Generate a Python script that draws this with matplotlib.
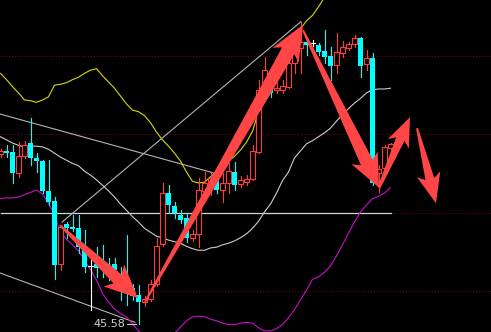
import matplotlib.pyplot as plt
import matplotlib.transforms as mtransforms
from matplotlib.patches import Rectangle, Polygon
import numpy as np

# K线数据：开盘、收盘、最高、最低
opens = [47.75, 47.79, 47.78, 47.51, 47.72, 47.89, 47.70, 47.66, 47.28, 47.15,
         46.34, 46.86, 46.82, 46.80, 46.52, 46.32, 46.34, 46.37, 46.33, 46.34,
         46.19, 46.09, 46.04, 45.95, 45.86, 45.90, 46.09, 46.60, 47.25, 47.09,
         46.97, 46.93, 46.68, 46.73, 47.28, 47.34, 47.46, 47.29, 47.38, 47.52,
         47.37, 47.39, 47.43, 47.78, 48.54, 48.57, 48.57, 48.57, 48.61, 48.91,
         49.10, 49.18, 49.17, 49.14, 49.07, 49.00, 48.89, 49.04, 49.10, 49.15,
         49.23, 48.90, 48.98, 47.51, 47.57, 47.83]
closes = [47.79, 47.76, 47.51, 47.72, 47.86, 47.70, 47.66, 47.28, 47.14, 46.33,
          46.82, 46.80, 46.79, 46.56, 46.31, 46.32, 46.29, 46.33, 46.24, 46.27,
          46.09, 45.99, 45.94, 45.86, 45.90, 46.09, 46.57, 47.25, 47.10, 47.00,
          46.91, 46.68, 46.73, 47.29, 47.38, 47.44, 47.29, 47.38, 47.53, 47.35,
          47.42, 47.43, 47.79, 48.57, 48.82, 48.53, 48.59, 48.62, 48.91, 49.18,
          49.18, 49.14, 49.17, 49.05, 48.99, 48.87, 49.05, 49.12, 49.15, 49.23,
          48.87, 48.98, 47.38, 47.56, 47.84, 47.88]
highs = [47.81, 47.86, 47.86, 47.90, 47.92, 48.21, 47.76, 47.67, 47.67, 47.20,
         46.84, 46.88, 46.97, 46.97, 46.78, 46.43, 46.56, 46.59, 46.42, 46.42,
         46.31, 46.72, 46.09, 46.08, 45.94, 46.14, 46.68, 47.38, 47.35, 47.14,
         47.03, 47.00, 46.78, 47.44, 47.52, 47.51, 47.51, 47.51, 47.63, 47.65,
         47.47, 47.48, 47.86, 48.70, 48.99, 48.63, 48.67, 48.70, 49.01, 49.27,
         49.44, 49.24, 49.21, 49.17, 49.33, 49.12, 49.30, 49.19, 49.18, 49.27,
         49.24, 49.08, 49.04, 47.61, 47.86, 47.89]
lows = [47.71, 47.71, 47.38, 47.46, 47.70, 47.61, 47.52, 47.25, 47.10, 46.15,
        46.27, 46.68, 46.77, 46.49, 46.24, 45.76, 46.18, 46.18, 46.14, 46.05,
        45.89, 45.82, 45.89, 45.58, 45.81, 45.87, 46.06, 46.57, 47.00, 46.93,
        46.87, 46.63, 46.64, 46.56, 47.21, 47.23, 47.25, 47.14, 47.25, 47.29,
        47.33, 47.35, 47.42, 47.76, 48.44, 48.48, 48.53, 48.53, 48.59, 48.78,
        48.78, 49.01, 49.13, 49.01, 48.91, 48.70, 48.78, 48.99, 49.08, 49.12,
        48.73, 48.82, 47.35, 47.26, 47.55, 47.63]

# 布林带 上轨 / 中轨 / 下轨
upper_band = [48.78, 48.70, 48.61, 48.53, 48.44, 48.43, 48.41, 48.44, 48.48, 48.63,
              48.64, 48.66, 48.70, 48.73, 48.78, 48.82, 48.84, 48.75, 48.67, 48.59,
              48.49, 48.39, 48.31, 48.29, 48.24, 48.15, 48.03, 47.93, 47.85, 47.76,
              47.66, 47.52, 47.40, 47.38, 47.39, 47.46, 47.53, 47.60, 47.66, 47.72,
              47.80, 47.90, 48.04, 48.29, 48.57, 48.73, 48.86, 48.99, 49.12, 49.23,
              49.35, 49.45, 49.52, 49.63, 49.75, 49.87]
mid_band = [47.97, 47.93, 47.89, 47.86, 47.84, 47.85, 47.85, 47.84, 47.81, 47.76,
            47.71, 47.67, 47.63, 47.60, 47.53, 47.48, 47.42, 47.35, 47.28, 47.20,
            47.11, 47.03, 46.95, 46.88, 46.80, 46.75, 46.70, 46.68, 46.65, 46.63,
            46.61, 46.57, 46.54, 46.52, 46.52, 46.55, 46.56, 46.59, 46.61, 46.64,
            46.68, 46.73, 46.80, 46.89, 47.01, 47.11, 47.25, 47.41, 47.52, 47.70,
            47.79, 47.88, 47.92, 47.97, 48.02, 48.08, 48.17, 48.25, 48.33, 48.40,
            48.46, 48.53, 48.57, 48.58, 48.58, 48.59]
lower_band = [47.18, 47.19, 47.19, 47.20, 47.23, 47.26, 47.29, 47.24, 47.12, 46.97,
              46.75, 46.66, 46.59, 46.51, 46.40, 46.27, 46.14, 45.97, 45.86, 45.77,
              45.71, 45.67, 45.58, 45.49, 45.43, 45.37, 45.35, 45.37, 45.43, 45.46,
              45.54, 45.62, 45.67, 45.68, 45.67, 45.64, 45.62, 45.59, 45.57, 45.57,
              45.59, 45.60, 45.59, 45.53, 45.49, 45.49, 45.52, 45.57, 45.66, 45.76,
              45.89, 46.01, 46.15, 46.18, 46.24, 46.32, 46.45, 46.59, 46.74, 46.88,
              47.01, 47.10, 47.18, 47.21, 47.25, 47.32]

# 最低点标注
low_index = 23
low_label = '45.58'

# 画线工具：趋势线 (起点, 终点)
trend_lines = [((-0.08, 48.26), (35.42, 47.51)),
               ((10.25, 46.88), (50.08, 49.44)),
               ((-0.08, 46.23), (22.4, 45.60))]
level_line = 47.00
grid_levels = [46.0, 47.0, 48.0, 49.0]

# 红色箭头 (尾, 头, 尾宽, 颈宽, 头宽, 头长) 宽度单位为像素
arrows = [((9.92, 46.84), (22.92, 45.91), 2, 12, 30, 28),
          ((24.08, 45.86), (50.42, 49.40), 2, 14, 30, 30),
          ((50.42, 49.33), (63.08, 47.32), 2, 13, 29, 28),
          ((63.08, 47.32), (68.25, 48.22), 3, 9, 23, 24),
          ((69.42, 48.08), (72.58, 47.12), 2, 9, 24, 25)]

fig = plt.figure(figsize=(4.91, 3.32), dpi=100, facecolor='black')
ax = fig.add_axes([0, 0, 1, 1])
ax.set_facecolor('black')
ax.set_xlim(-0.5 / 6, 490.5 / 6)
ax.set_ylim(45.4765, 49.7165)
ax.axis('off')

# 网格虚线
for g in grid_levels:
    ax.axhline(g, color='#8c0000', lw=0.7, ls=(0, (1, 2)), zorder=1)
ax.plot([0, 65], [level_line, level_line], color='#e0d0d0', lw=0.9, zorder=2)

# 趋势线
for (x0, y0), (x1, y1) in trend_lines:
    ax.plot([x0, x1], [y0, y1], color='#b4b4b4', lw=0.8, zorder=2)

# 布林带
ax.plot(range(len(upper_band)), upper_band, color='#d8d800', lw=0.8, zorder=2)
ax.plot(range(len(mid_band)), mid_band, color='#cccccc', lw=0.8, zorder=2)
ax.plot(range(len(lower_band)), lower_band, color='#c810c8', lw=0.8, zorder=2)

# 画K线
for i in range(len(opens)):
    o, c, h, l = opens[i], closes[i], highs[i], lows[i]
    if o == c:  # 十字星
        ax.plot([i, i], [l, h], color='white', lw=0.8, zorder=3)
        ax.plot([i - 0.4, i + 0.4], [o, o], color='white', lw=0.8, zorder=3)
    elif c > o:  # 阳线，空心红
        ax.plot([i, i], [c, h], color='#ff3c3c', lw=0.8, zorder=3)
        ax.plot([i, i], [l, o], color='#ff3c3c', lw=0.8, zorder=3)
        ax.add_patch(Rectangle((i - 0.34, o), 0.68, c - o, facecolor='black',
                               edgecolor='#ff3c3c', lw=0.8, zorder=3))
    else:  # 阴线，实心青
        ax.plot([i, i], [l, h], color='#00ffff', lw=0.8, zorder=3)
        ax.add_patch(Rectangle((i - 0.4, c), 0.8, o - c, facecolor='#00ffff',
                               edgecolor='none', zorder=3))

# 最低价标注
ax.text(low_index - 2.2, lows[low_index], low_label, color='#d0d0d0', fontsize=8,
        ha='right', va='center', zorder=4)
ax.plot([low_index - 1.9, low_index - 0.4], [lows[low_index]] * 2, color='#d0d0d0', lw=0.8, zorder=4)


def draw_arrow(tail, tip, w0, w1, hw, hl):
    p0 = ax.transData.transform(tail)
    p1 = ax.transData.transform(tip)
    d = p1 - p0
    u = d / np.hypot(d[0], d[1])
    n = np.array([-u[1], u[0]])
    neck = p1 - u * hl
    pts = [p0 + n * w0 / 2, neck + n * w1 / 2, neck - u * 5 + n * hw / 2, p1,
           neck - u * 5 - n * hw / 2, neck - n * w1 / 2, p0 - n * w0 / 2]
    ax.add_patch(Polygon(pts, closed=True, transform=mtransforms.IdentityTransform(),
                         facecolor='#ff4545', edgecolor='none', zorder=5))


for a in arrows:
    draw_arrow(*a)

fig.savefig('out.png', dpi=100, facecolor='black')
